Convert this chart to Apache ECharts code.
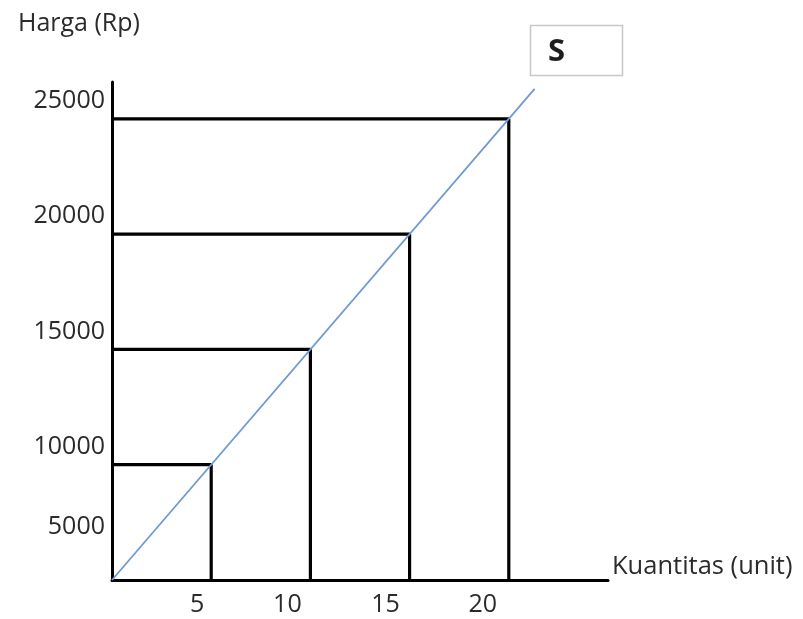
<!DOCTYPE html>
<html>
<head>
<meta charset="utf-8">
<script src="https://cdn.jsdelivr.net/npm/echarts@6/dist/echarts.min.js"></script>
<style>html,body{margin:0;padding:0;background:#fff}#c{width:803px;height:619px}</style>
</head>
<body>
<div id="c"></div>
<script>
// ---- data ----
var quantities = [5, 10, 15, 20];
var prices = [10000, 15000, 20000, 25000];
var yTickLabels = [5000, 10000, 15000, 20000, 25000];
var xTickLabels = [5, 10, 15, 20];
var supplyLine = [[0, 5000], [21.3, 26300]];
var curveName = 'S';
var xTitle = 'Kuantitas (unit)';
var yTitle = 'Harga (Rp)';

var FONT = '"Open Sans", sans-serif';
var TXT = '#2b2b2b';
var FS = 25;

var chart = echarts.init(document.getElementById('c'), null, {renderer: 'canvas'});

var series = [];
quantities.forEach(function (q, i) {
  series.push({
    type: 'line',
    data: [[0, prices[i]], [q, prices[i]], [q, 5000]],
    symbol: 'none',
    silent: true,
    lineStyle: {color: '#000', width: 3.2},
    z: 2
  });
});
series.push({
  type: 'line',
  data: supplyLine,
  symbol: 'none',
  silent: true,
  lineStyle: {color: '#6f9bd3', width: 1.8},
  z: 3
});

var xShift = {5: 28, 10: 46, 15: 48, 20: 52};

chart.setOption({
  animation: false,
  backgroundColor: '#fff',
  title: {
    text: yTitle,
    left: 13,
    top: 6,
    textStyle: {fontFamily: FONT, fontSize: FS, fontWeight: 'normal', color: TXT}
  },
  grid: {left: 112, right: 195, top: 82, bottom: 39},
  xAxis: {
    type: 'value',
    min: 0,
    max: 25,
    interval: 5,
    name: xTitle,
    nameLocation: 'end',
    nameGap: 4,
    nameTextStyle: {fontFamily: FONT, fontSize: 25.5, color: TXT, verticalAlign: 'bottom', align: 'left', padding: [0, 0, 0, 0]},
    axisLine: {onZero: false, lineStyle: {color: '#000', width: 3}},
    axisTick: {show: false},
    splitLine: {show: false},
    axisLabel: {
      margin: 12,
      fontFamily: FONT,
      fontSize: FS,
      color: TXT,
      formatter: function (v) {
        if (xTickLabels.indexOf(v) < 0) return '';
        return '{s' + v + '|' + v + '}';
      },
      rich: (function () {
        var r = {};
        xTickLabels.forEach(function (v) {
          r['s' + v] = {fontFamily: FONT, fontSize: FS, color: TXT, padding: [0, xShift[v], 0, 0]};
        });
        return r;
      })()
    }
  },
  yAxis: {
    type: 'value',
    min: 5000,
    max: 26600,
    interval: 5000,
    axisLine: {onZero: false, lineStyle: {color: '#000', width: 3}},
    axisTick: {show: false},
    splitLine: {show: false},
    axisLabel: {
      margin: 7,
      fontFamily: FONT,
      fontSize: FS,
      color: TXT,
      formatter: function (v) {
        if (yTickLabels.indexOf(v) < 0) return '';
        return (v === 5000 ? '{lo|' : '{hi|') + v + '}';
      },
      rich: {
        hi: {fontFamily: FONT, fontSize: FS, color: TXT, padding: [0, 0, 36, 0]},
        lo: {fontFamily: FONT, fontSize: FS, color: TXT, padding: [0, 0, 106, 0]}
      }
    }
  },
  graphic: [
    {
      type: 'rect',
      shape: {x: 530.5, y: 25.5, width: 92, height: 50},
      style: {fill: '#fff', stroke: '#c8c8c8', lineWidth: 1.5},
      z: 10
    },
    {
      type: 'text',
      left: 548,
      top: 37,
      style: {text: curveName, fontFamily: FONT, fontSize: 31, fontWeight: 'bold', fill: '#1e1e1e'},
      z: 11
    }
  ],
  series: series
});
</script>
</body>
</html>
